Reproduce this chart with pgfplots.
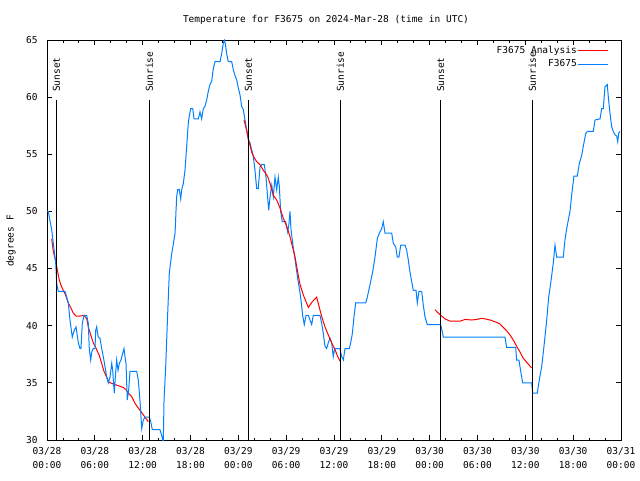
\documentclass[border=0pt]{standalone}
\usepackage{pgfplots}
\pgfplotsset{compat=1.18}
\usepackage{fontspec}
\setmainfont{DejaVu Sans Mono}
\definecolor{gpred}{RGB}{255,0,0}
\definecolor{gpblue}{RGB}{0,128,255}
\begin{document}
\fontsize{9.5pt}{13pt}\selectfont
\begin{tikzpicture}[font=\fontsize{9.5pt}{13pt}\selectfont]
\path[use as bounding box] (0,0) rectangle (640pt,480pt);
\node at (326pt,460pt) {Temperature for F3675 on 2024-Mar-28 (time in UTC)};
\node[rotate=90] at (11pt,239pt) {degrees F};
\begin{axis}[
  at={(47pt,40pt)}, anchor=south west,
  width=574pt, height=400pt, scale only axis,
  xmin=0, xmax=72, ymin=30, ymax=65,
  xtick={0,6,...,72},
  xticklabels={{03/28\\00:00},{03/28\\06:00},{03/28\\12:00},{03/28\\18:00},{03/29\\00:00},{03/29\\06:00},{03/29\\12:00},{03/29\\18:00},{03/30\\00:00},{03/30\\06:00},{03/30\\12:00},{03/30\\18:00},{03/31\\00:00}},
  xticklabel style={align=center, yshift=-4.5pt},
  yticklabel style={xshift=-6pt},
  minor x tick num=2,
  ytick={30,35,...,65},
  tick align=inside,
  xtick pos=both, ytick pos=both,
  major tick length=5pt, minor tick length=2.5pt,
  axis line style={line width=0.8pt},
  every tick/.style={black, line width=0.8pt},
  /pgf/number format/assume math mode=true,
  tick label style={font=\fontsize{9.5pt}{13.5pt}\selectfont},
  legend plot pos=right,
  legend cell align=right,
  legend style={draw=none, fill=none, at={(1,1)}, anchor=north east, xshift=-9pt, yshift=-3pt,
    nodes={inner sep=1pt}, row sep=3pt, font=\fontsize{9.5pt}{12.5pt}\selectfont},
  legend image code/.code={\draw[#1] (0pt,0pt) -- (30pt,0pt);},
]
\addplot[gpred, line width=1pt] coordinates {
(0.59,47.6)(0.79,46.5)(1.00,45.9)(1.13,45.5)(1.29,44.9)(1.51,44.1)(1.72,43.6)(2.04,43.1)(2.26,42.8)(2.47,42.4)(2.67,42.0)(3.10,41.4)(3.30,41.1)(3.64,40.85)(4.14,40.85)(4.68,40.9)(4.98,40.6)(5.18,39.9)(5.48,39.2)(5.81,38.5)(6.23,37.9)(6.56,37.4)(6.86,36.7)(7.15,36.0)(7.49,35.5)(7.78,35.05)(8.32,34.9)(8.94,34.75)(9.57,34.6)(9.91,34.4)(10.20,34.1)(10.62,33.8)(11.04,33.2)(11.45,32.8)(11.88,32.4)(12.29,32.0)(12.71,31.6)
};
\addlegendentry{F3675 Analysis}
\addplot[gpblue, line width=1pt] coordinates {
(0,50.0)(0.16,50.0)(0.59,48.4)(0.79,47.2)(0.92,46.5)(1.09,45.5)(1.22,43.7)(1.42,43.0)(2.26,43.0)(2.47,42.5)(2.67,42.0)(2.88,40.5)(3.17,39.0)(3.42,39.6)(3.64,39.9)(3.93,38.5)(4.14,38.0)(4.26,38.0)(4.43,40.2)(4.64,40.9)(4.98,40.9)(5.18,40.2)(5.31,37.9)(5.48,37.0)(5.61,37.7)(5.81,38.0)(6.02,38.0)(6.11,39.6)(6.23,39.9)(6.31,39.5)(6.43,39.0)(6.65,38.9)(6.86,38.0)(7.06,37.3)(7.28,36.4)(7.49,35.5)(7.69,35.0)(7.90,35.5)(8.12,36.7)(8.24,36.1)(8.32,35.25)(8.44,34.1)(8.57,35.5)(8.74,37.0)(8.91,36.1)(9.07,36.7)(9.28,37.0)(9.50,37.6)(9.66,38.0)(9.78,37.3)(9.91,36.7)(10.07,33.5)(10.25,34.4)(10.41,36.0)(11.25,36.0)(11.45,35.25)(11.67,33.4)(11.88,31.0)(12.08,31.75)(12.29,32.0)(12.83,32.0)(13.01,31.6)(13.21,30.9)(14.17,30.9)(14.39,30.4)(14.51,30.0)(14.59,29.9)(14.68,33.5)(14.89,36.4)(15.09,40.2)(15.34,44.6)(15.64,46.3)(15.84,47.1)(16.06,48.1)(16.18,50.0)(16.27,51.3)(16.39,51.9)(16.60,51.9)(16.77,51.1)(16.90,51.9)(17.10,52.45)(17.31,53.6)(17.52,55.7)(17.72,57.7)(17.85,58.35)(18.03,59.0)(18.28,59.0)(18.44,58.1)(18.98,58.1)(19.19,58.7)(19.40,58.1)(19.61,59.0)(19.82,59.2)(20.03,59.75)(20.23,60.5)(20.44,61.1)(20.66,61.4)(20.86,62.5)(21.07,63.1)(21.70,63.1)(21.91,63.8)(22.11,64.7)(22.24,65.0)(22.36,64.7)(22.54,63.8)(22.74,63.1)(23.17,63.1)(23.37,62.4)(23.58,61.9)(23.80,61.5)(24.00,60.8)(24.21,60.2)(24.42,59.2)(24.62,58.9)(24.84,58.0)(25.05,57.1)(25.25,56.25)(25.46,56.0)(25.67,55.4)(25.88,54.8)(26.09,53.6)(26.30,52.0)(26.50,52.0)(26.72,53.9)(26.93,54.1)(27.26,54.1)(27.47,53.0)(27.63,51.6)(27.81,50.1)(27.98,51.3)(28.19,52.3)(28.39,51.3)(28.60,53.0)(28.81,51.9)(29.01,53.0)(29.14,52.2)(29.31,50.0)(29.51,49.1)(29.94,49.1)(30.19,48.2)(30.35,48.9)(30.48,50.0)(30.61,48.4)(30.82,47.2)(31.02,46.3)(31.23,45.2)(31.45,44.1)(31.65,43.3)(31.86,42.25)(32.07,40.9)(32.27,40.1)(32.49,40.9)(32.78,40.9)(32.99,40.5)(33.20,40.1)(33.40,40.9)(34.24,40.9)(34.46,40.2)(34.66,39.3)(34.87,38.2)(35.08,38.0)(35.28,38.5)(35.50,38.9)(35.71,38.5)(35.91,37.3)(36.09,38.0)(36.75,38.0)(36.97,37.3)(37.17,37.0)(37.38,38.0)(37.92,38.0)(38.09,38.5)(38.30,39.3)(38.51,40.8)(38.72,42.0)(39.98,42.0)(40.18,42.5)(40.52,43.6)(40.85,44.7)(41.14,46.0)(41.43,47.6)(41.68,48.1)(41.98,48.5)(42.18,49.1)(42.40,48.1)(43.24,48.1)(43.44,47.2)(43.74,46.9)(43.94,46.0)(44.15,46.0)(44.37,47.05)(44.91,47.05)(45.12,46.6)(45.32,45.75)(45.53,44.7)(45.75,43.85)(45.95,43.1)(46.29,43.1)(46.45,42.0)(46.66,43.0)(47.00,43.0)(47.20,41.8)(47.41,40.8)(47.70,40.1)(49.38,40.1)(49.63,39.3)(49.71,39.0)(57.45,39.0)(57.66,38.1)(58.79,38.1)(58.91,37.0)(59.20,37.0)(59.42,36.0)(59.67,35.0)(60.80,35.0)(60.93,34.1)(61.50,34.1)(61.75,35.25)(62.05,36.4)(62.34,38.2)(62.68,40.5)(62.93,42.5)(63.18,43.7)(63.51,45.5)(63.72,47.05)(63.93,46.0)(64.76,46.0)(64.97,47.5)(65.19,48.5)(65.60,50.0)(65.89,51.9)(66.10,53.1)(66.52,53.1)(66.77,54.2)(67.07,54.9)(67.27,55.7)(67.57,56.8)(67.77,57.0)(68.52,57.0)(68.74,58.0)(69.37,58.1)(69.58,59.0)(69.78,59.0)(69.99,60.9)(70.28,61.1)(70.41,60.0)(70.62,58.6)(70.83,57.4)(71.03,57.0)(71.25,56.7)(71.46,56.6)(71.59,56.1)(71.71,56.85)(71.87,57.0)
};
\addlegendentry{F3675}
\addplot[gpred, line width=1pt, forget plot] coordinates {
(24.71,58.0)(25.05,57.1)(25.25,56.4)(25.46,55.8)(25.67,55.2)(25.88,54.85)(26.30,54.35)(26.72,54.1)(27.13,53.6)(27.56,53.2)(27.76,52.9)(27.97,52.45)(28.19,51.9)(28.39,51.4)(28.81,51.0)(29.23,50.3)(29.64,49.4)(30.07,48.7)(30.48,47.8)(30.90,46.6)(31.11,46.0)(31.32,45.2)(31.52,44.4)(31.74,43.6)(32.15,42.7)(32.49,42.1)(32.78,41.6)(33.28,42.1)(33.83,42.5)(34.12,41.7)(34.46,40.8)(34.87,39.9)(35.28,39.2)(35.71,38.5)(36.13,37.9)(36.41,37.4)(36.75,36.9)
};
\addplot[gpred, line width=1pt, forget plot] coordinates {
(48.67,41.4)(49.08,41.1)(49.51,40.85)(49.92,40.6)(50.55,40.4)(51.18,40.4)(51.81,40.4)(52.44,40.55)(53.28,40.5)(53.90,40.55)(54.53,40.65)(54.94,40.6)(55.57,40.5)(56.19,40.35)(56.82,40.15)(57.24,39.85)(57.66,39.55)(58.07,39.2)(58.49,38.75)(58.91,38.2)(59.33,37.7)(59.75,37.15)(60.17,36.8)(60.80,36.3)
};
\foreach \t/\lab in {1.17/Sunset,12.84/Sunrise,25.25/Sunset,36.79/Sunrise,49.38/Sunset,60.87/Sunrise}{
  \edef\temp{\noexpand\draw[black, line width=1pt] (axis cs:\t,30) -- (axis cs:\t,59.75);
    \noexpand\node[rotate=90, anchor=west, inner sep=0pt] at (axis cs:\t,60.45) {\lab};}
  \temp
}
\end{axis}
\end{tikzpicture}
\end{document}
